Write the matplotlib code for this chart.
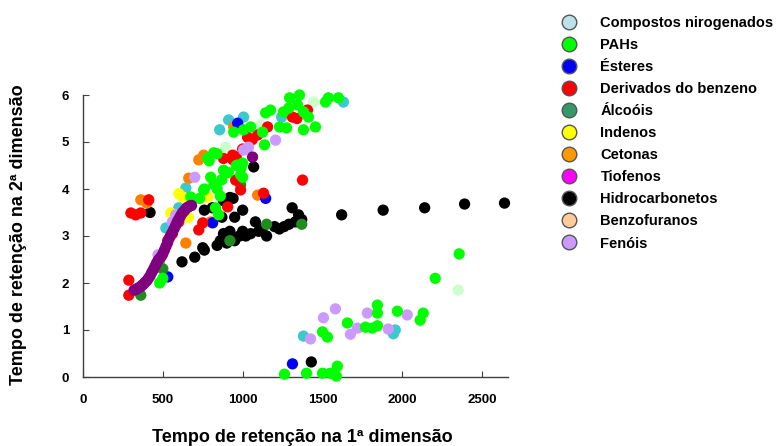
import matplotlib
matplotlib.use("Agg")
import matplotlib.pyplot as plt
from matplotlib.lines import Line2D

plt.rcParams['font.family'] = ['Liberation Sans', 'DejaVu Sans']

# ---------------- data ----------------
labels = ["Compostos nirogenados", "PAHs", "Ésteres", "Derivados do benzeno", "Álcoóis",
          "Indenos", "Cetonas", "Tiofenos", "Hidrocarbonetos", "Benzofuranos", "Fenóis"]
legend_colors = ["#b9e3e6", "#00ff00", "#0000ff", "#ff0000", "#339966", "#ffff00",
                 "#ff9900", "#ff00ff", "#000000", "#ffcc99", "#cc99ff"]
plot_colors = ["#3cc8cc", "#00ff00", "#0000ff", "#ff0000", "#1e8c1e", "#ffff00",
               "#ff7f00", "#800080", "#000000", "#ccffcc", "#cc99ff"]

nitro_x = [912, 856, 1006, 1244, 1631, 644, 519, 1381, 1956, 1944, 480, 600]
nitro_y = [5.47, 5.26, 5.53, 5.53, 5.85, 4.02, 3.17, 0.87, 1.00, 0.92, 2.4, 3.6]

pah_x = [730, 760, 790, 800, 820, 840, 860, 850, 830, 870, 880, 840, 910, 960, 990, 1000,
         944, 1006, 1050, 1125, 1137, 1144, 1175, 1231, 1275, 1256, 1288, 1294, 1344, 1356,
         1381, 1412, 1381, 1456, 1537, 1519, 1600, 819, 781, 756, 675, 969, 1000, 987,
         480, 500, 1262, 1400, 1500, 1550, 1593, 1587, 1500, 1531, 1656, 1769, 1812,
         1844, 1844, 1844, 1969, 2112, 2131, 2206, 2356]
pah_y = [3.80, 4.00, 4.60, 4.25, 4.10, 4.00, 3.85, 3.45, 3.60, 4.20, 4.40, 4.75, 4.35, 4.50,
         4.45, 4.25, 5.21, 5.26, 5.32, 5.21, 4.94, 5.62, 5.68, 5.32, 5.30, 5.64, 5.72, 5.94,
         5.79, 6.00, 5.64, 5.53, 5.26, 5.32, 5.94, 5.85, 5.94, 4.77, 4.66, 3.98, 3.83, 4.51,
         4.55, 4.30, 2.00, 2.10, 0.06, 0.08, 0.08, 0.08, 0.23, 0.02, 0.96, 0.85, 1.15, 1.06,
         1.04, 1.53, 1.36, 1.09, 1.40, 1.21, 1.36, 2.10, 2.62]

ester_x = [969, 1144, 531, 812, 1312]
ester_y = [5.40, 3.80, 2.13, 3.28, 0.28]

benz_x = [300, 330, 362, 412, 287, 287, 725, 750, 906, 956, 987, 1131, 1375, 937, 1031,
          1094, 1156, 1312, 1406, 1340, 880, 940, 960, 1000, 1060, 560, 600, 530]
benz_y = [3.49, 3.45, 3.49, 3.77, 2.06, 1.74, 3.13, 3.28, 3.62, 4.19, 3.98, 3.91, 4.19,
          4.72, 5.10, 5.15, 5.32, 5.53, 5.68, 5.50, 4.65, 4.62, 4.68, 4.85, 5.05, 3.05, 3.3, 2.9]

alc_x = [362, 987, 1150, 920, 1370, 500]
alc_y = [1.74, 4.09, 3.25, 2.9, 3.25, 2.3]

ind_x = [625, 781, 550, 600, 660]
ind_y = [3.83, 3.83, 3.49, 3.90, 3.40]

cet_x = [362, 725, 756, 662, 1094, 944, 644, 400, 800]
cet_y = [3.77, 4.62, 4.72, 4.23, 3.87, 5.32, 2.85, 3.70, 3.30]

tio_x = [320, 330, 340, 350, 360, 370, 380, 390, 400, 410, 420, 430, 440, 450, 460, 470,
         480, 490, 500, 510, 520, 530, 540, 550, 560, 570, 580, 590, 600, 610, 620, 630,
         640, 650, 660, 670, 680, 1062]
tio_y = [1.85, 1.86, 1.88, 1.90, 1.92, 1.95, 1.98, 2.02, 2.05, 2.10, 2.15, 2.22, 2.28, 2.35,
         2.42, 2.48, 2.52, 2.56, 2.62, 2.70, 2.78, 2.86, 2.95, 3.02, 3.08, 3.15, 3.22, 3.30,
         3.36, 3.42, 3.48, 3.52, 3.56, 3.60, 3.62, 3.64, 3.65, 4.68]

hc_x = [420, 620, 700, 750, 760, 840, 860, 880, 900, 920, 950, 980, 1000, 1020, 1050, 1080,
        1100, 1150, 1120, 1200, 1230, 1260, 1290, 1310, 1330, 1350, 1370, 1620, 1880, 2140,
        2390, 2640, 1430, 1069, 940, 920, 880, 760, 870, 1000, 950, 810]
hc_y = [3.50, 2.45, 2.55, 2.75, 2.70, 2.80, 2.90, 3.05, 2.85, 3.10, 2.90, 3.00, 3.10, 3.00,
        3.05, 3.30, 3.10, 3.00, 3.15, 3.20, 3.15, 3.20, 3.25, 3.60, 3.30, 3.45, 3.35, 3.45,
        3.55, 3.60, 3.68, 3.70, 0.32, 4.47, 3.80, 3.82, 3.75, 3.55, 3.40, 3.55, 3.40, 3.60]

bzf_x = [1444, 894, 1112, 2350]
bzf_y = [5.85, 4.89, 5.36, 1.85]

fen_x = [1206, 1037, 1006, 1581, 1506, 1781, 2031, 1912, 1719, 1675, 1425, 581, 470, 700, 560]
fen_y = [5.04, 4.89, 4.83, 1.45, 1.26, 1.36, 1.32, 1.02, 1.04, 0.91, 0.81, 3.45, 2.60, 4.25, 3.30]

series_x = [nitro_x, pah_x, ester_x, benz_x, alc_x, ind_x, cet_x, tio_x, hc_x, bzf_x, fen_x]
series_y = [nitro_y, pah_y, ester_y, benz_y, alc_y, ind_y, cet_y, tio_y, hc_y, bzf_y, fen_y]

x_ticks = [0, 500, 1000, 1500, 2000, 2500]
y_ticks = [0, 1, 2, 3, 4, 5, 6]

# ---------------- figure ----------------
fig = plt.figure(figsize=(7.79, 4.46), dpi=100)
ax = fig.add_axes([83 / 779, 1 - 377 / 446, (508 - 83) / 779, (377 - 95) / 446])

draw_order = [8, 9, 0, 5, 6, 2, 4, 3, 10, 1, 7]
for i in draw_order:
    sc = ax.scatter(series_x[i], series_y[i], s=66, color=plot_colors[i], edgecolors='none',
                    zorder=3)
    sc.set_clip_on(False)

ax.set_xlim(0, 2662)
ax.set_ylim(0, 6)
ax.set_xticks(x_ticks)
ax.set_yticks(y_ticks)
ax.spines['top'].set_visible(False)
ax.spines['right'].set_visible(False)
for sp in ['left', 'bottom']:
    ax.spines[sp].set_color('#404040')
    ax.spines[sp].set_linewidth(1.0)
ax.tick_params(axis='both', direction='in', length=4, color='#404040', labelsize=9.5)
ax.tick_params(axis='y', pad=10)
ax.tick_params(axis='x', pad=12)
for lab in ax.get_xticklabels() + ax.get_yticklabels():
    lab.set_fontweight('bold')

ax.set_xlabel("Tempo de retenção na 1ª dimensão", fontsize=13, fontweight='bold')
ax.xaxis.set_label_coords((302 - 83) / (508 - 83), -(437 - 377) / (377 - 95))
ax.xaxis.label.set_va('center')
fig.text(19 / 779, 1 - 235 / 446, "Tempo de retenção na 2ª dimensão", fontsize=13,
         fontweight='bold', rotation=90, ha='center', va='center')

handles = [Line2D([0], [0], marker='o', linestyle='none', markersize=10.5,
                  markerfacecolor=c, markeredgecolor='#555555', markeredgewidth=1.0)
           for c in legend_colors]
fig.legend(handles, labels, loc='upper left', bbox_to_anchor=(553 / 779, 1 - 9 / 446),
           frameon=False, prop={'weight': 'bold', 'size': 10.5}, labelspacing=0.55,
           handletextpad=1.55, borderpad=0, handlelength=1.2)

fig.savefig("out.png", dpi=100)
